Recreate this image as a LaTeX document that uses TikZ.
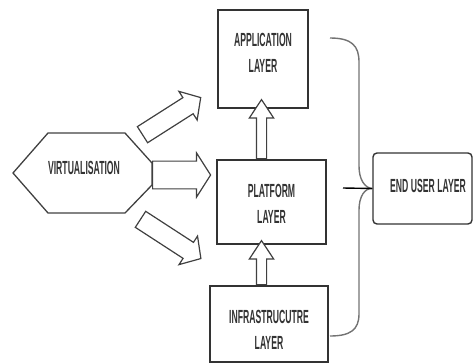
\documentclass[tikz,border=0pt]{standalone}
\usepackage{fontspec}
\setmainfont{Liberation Sans}[FakeStretch=0.455]
\usetikzlibrary{shapes.arrows}
\tikzset{
  layerbox/.style={draw=black!80, line width=1.6pt, fill=white, minimum width=#1},
  lbl/.style={text=black!80, align=center, font=\bfseries\fontsize{19}{26}\selectfont, inner sep=0pt},
  blockarrow/.style={single arrow, draw=black!75, line width=1.2pt, fill=white, inner xsep=0pt, anchor=tail},
  brace/.style={draw=black!55, line width=1.4pt},
}
\begin{document}
\begin{tikzpicture}[x=1pt,y=-1pt]
\path[use as bounding box] (0,0) rectangle (474,362);
% layer boxes
\node[layerbox=90pt, minimum height=98pt] (app) at (263,59) {};
\node[layerbox=109pt, minimum height=84pt] (plat) at (271.5,202) {};
\node[layerbox=118pt, minimum height=76pt] (infra) at (269,324) {};
\node[draw=black!80, line width=1.4pt, rounded corners=4pt, minimum width=99pt, minimum height=71pt] (eul) at (422.5,188.5) {};
% texts
\node[lbl] (apptext) at (263,53) {APPLICATION\\LAYER};
\node[lbl] (plattext) at (271.5,204) {PLATFORM\\LAYER};
\node[lbl] (infratext) at (269,330) {INFRASTRUCUTRE\\LAYER};
\node[lbl] (eultext) at (428,186) {END USER LAYER};
% hexagon
\draw[draw=black!75, line width=1.3pt] (13,173) -- (48,133) -- (125,133) -- (152,163) -- (152,185) -- (125,213) -- (48,213) -- cycle;
\node[lbl] (virt) at (84,168) {VIRTUALISATION};
% block arrows
\node[blockarrow, inner ysep=11.5pt, minimum width=44pt, minimum height=58pt, single arrow tip angle=115, rotate=0] (harrow) at (152,175) {};
\node[blockarrow, inner ysep=8.5pt, minimum width=34pt, minimum height=69pt, single arrow tip angle=97, rotate=32.5] (uarrow) at (142,135) {};
\node[blockarrow, inner ysep=8.5pt, minimum width=34pt, minimum height=72pt, single arrow tip angle=97, rotate=-33] (darrow) at (140,219) {};
\node[blockarrow, inner ysep=4.5pt, minimum width=20pt, minimum height=59pt, single arrow tip angle=67, rotate=90] (parrow) at (plat.north -| 261.5,0) {};
\node[blockarrow, inner ysep=4.5pt, minimum width=20pt, minimum height=44pt, single arrow tip angle=67, rotate=90] (iarrow) at (infra.north -| 261.5,0) {};
% brace to end user layer
\coordinate (btop) at (330,38);
\coordinate (bbot) at (330,336);
\coordinate (bmid) at (343,188);
\draw[brace] (btop) .. controls (352,38) and (359,46) .. (359,62) -- (359,166) .. controls (359,180) and (365,188) .. (eul.west);
\draw[brace] (eul.west) .. controls (365,188) and (359,196) .. (359,210) -- (359,314) .. controls (359,330) and (350,336) .. (bbot);
\draw[black, line width=1.4pt] (bmid) -- (eul.west);
\end{tikzpicture}
\end{document}
